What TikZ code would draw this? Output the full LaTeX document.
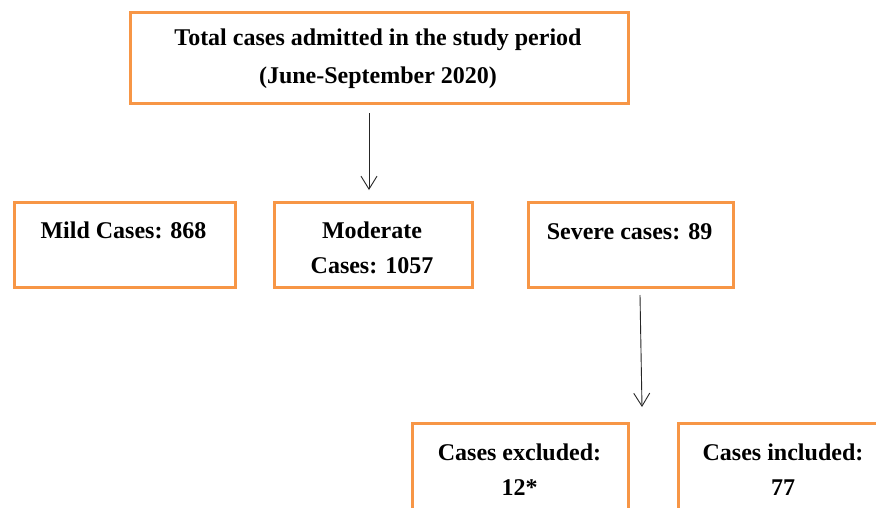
\documentclass[tikz,border=0pt]{standalone}
\usepackage{fontspec}
\setmainfont{Liberation Serif}
\usetikzlibrary{arrows.meta}
\definecolor{boxorange}{HTML}{F79646}
\begin{document}
\begin{tikzpicture}[x=1pt,y=-1pt,
  box/.style={draw=boxorange, line width=3pt, rectangle, inner sep=0pt, fill=white},
  txt/.style={anchor=base, inner sep=0pt, font=\fontsize{24}{38}\selectfont\bfseries},
  flow/.style={draw=black!85, line width=0.9pt, -{Straight Barb[length=13pt,width=16pt,line width=0.9pt]}}]
\useasboundingbox (0,0) rectangle (876,507);
\clip (0,0) rectangle (876,507);
\fill[white] (0,0) rectangle (876,507);
% boxes
\node[box, minimum width=498pt, minimum height=91pt] (top) at (379,57.5) {};
\node[box, minimum width=221pt, minimum height=85pt] (mild) at (124.5,244.5) {};
\node[box, minimum width=198pt, minimum height=85pt] (moderate) at (373,244.5) {};
\node[box, minimum width=205pt, minimum height=85pt] (severe) at (630.5,244.5) {};
\node[box, minimum width=216pt, minimum height=120pt] (excluded) at (520,483) {};
\node[box, minimum width=210pt, minimum height=120pt] (included) at (783,483) {};
% texts
\node[txt] (toptxta) at (378,45) {Total cases admitted in the study period};
\node[txt] (toptxtb) at (378,83) {(June-September 2020)};
\node[txt] (mildtxt) at (123.5,238) {Mild Cases: 868};
\node[txt] (modtxta) at (372,238) {Moderate};
\node[txt] (modtxtb) at (372,273) {Cases: 1057};
\node[txt] (sevtxt) at (629.5,239.5) {Severe cases: 89};
\node[txt] (exctxta) at (519.5,460) {Cases excluded:};
\node[txt] (exctxtb) at (519.5,495) {12*};
\node[txt] (inctxta) at (783,460) {Cases included:};
\node[txt] (inctxtb) at (783,495) {77};
% arrows
\coordinate (a1s) at (369,113);
\coordinate (a1e) at (369,190);
\coordinate (a2s) at (640,295);
\coordinate (a2e) at (642,407);
\draw[flow] (a1s) -- (a1e);
\draw[flow] (a2s) -- (a2e);
\end{tikzpicture}
\end{document}
